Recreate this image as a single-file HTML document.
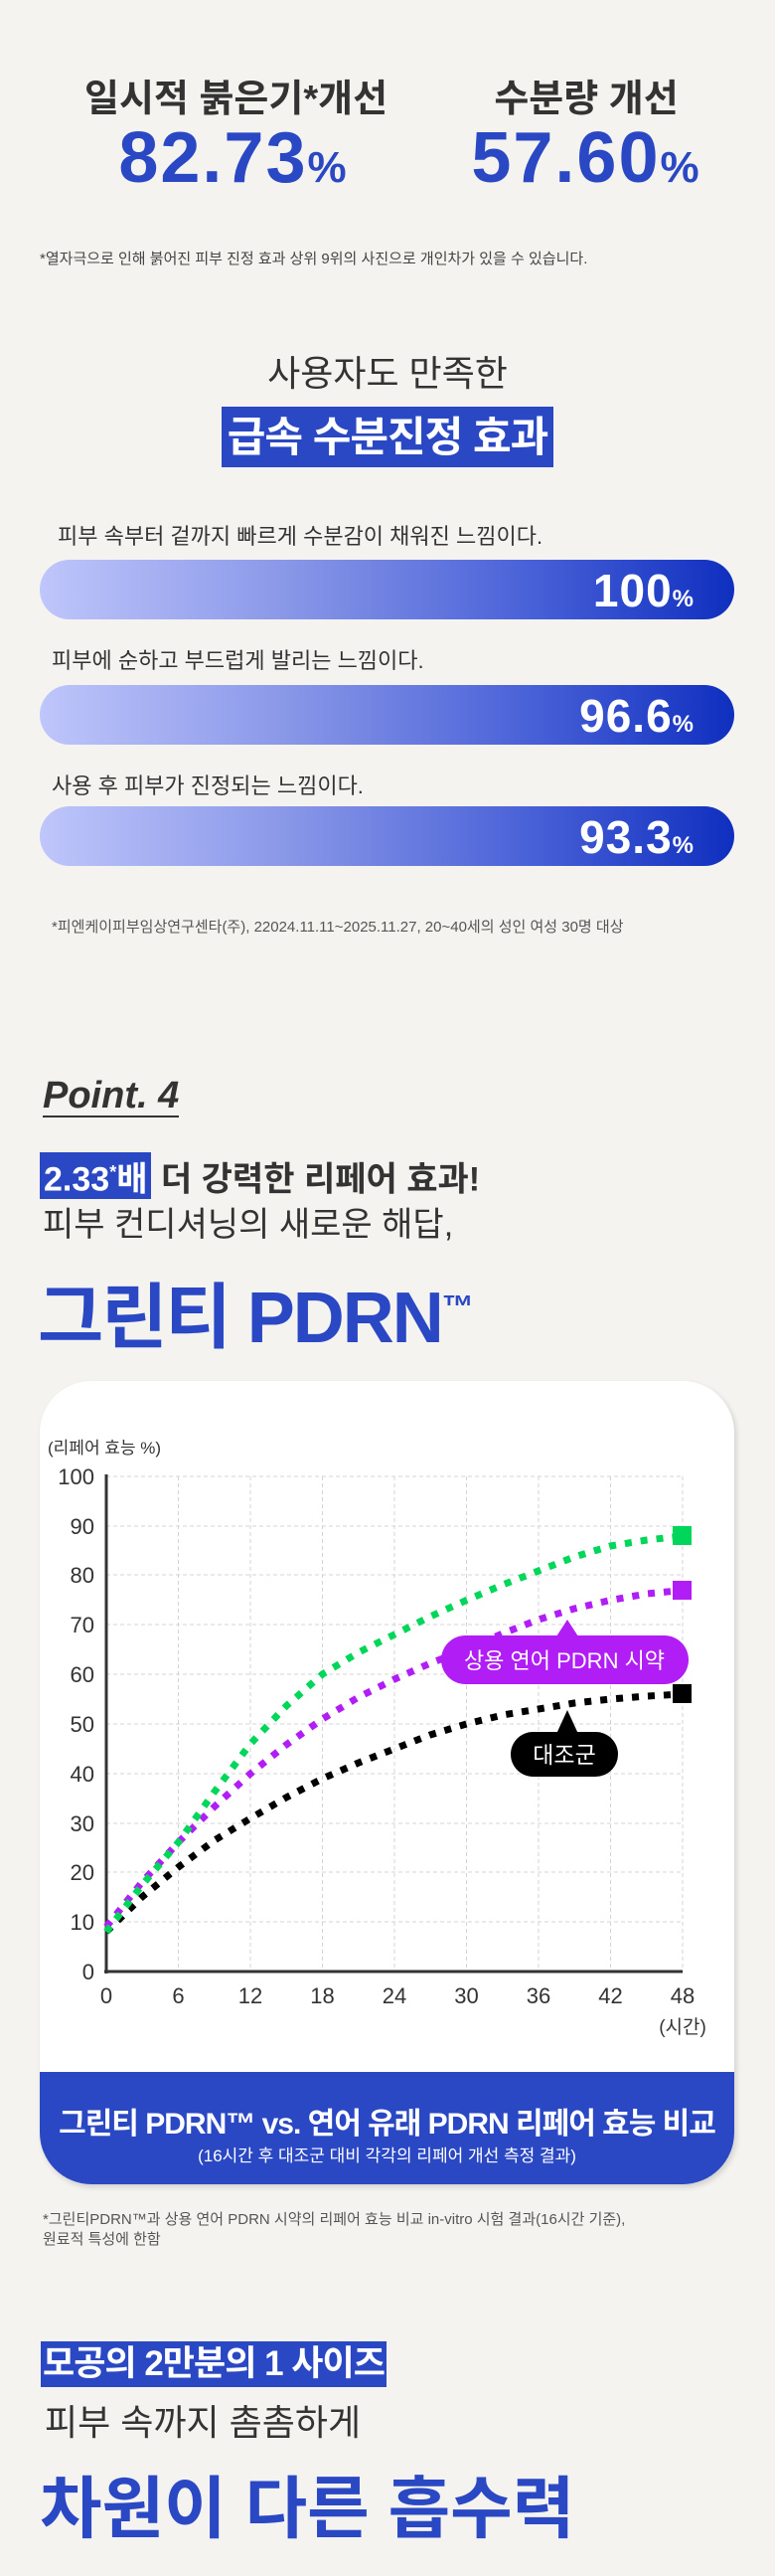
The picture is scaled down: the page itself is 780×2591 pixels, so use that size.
<!DOCTYPE html>
<html><head><meta charset="utf-8"><style>
*{margin:0;padding:0;box-sizing:border-box}
body{width:780px;height:2591px;background:#f4f3f0;position:relative;overflow:hidden;font-family:"Liberation Sans","Noto Sans CJK KR",sans-serif;color:#333}
.a{position:absolute;white-space:nowrap}
.c{text-align:center}
.blue{color:#2b48c4}
.bar{position:absolute;left:40px;width:699px;height:60px;border-radius:30px;background:linear-gradient(90deg,#bfc6fb 0%,#8a98e8 35%,#4a62d8 70%,#0f2fbf 100%)}
.bar span{position:absolute;right:40px;top:4px;color:#fff;font-weight:bold;font-size:46px;letter-spacing:1px}
.bar small{font-size:24px}
.lbl{font-size:22px;color:#333}
.hl{background:#2b48c4;color:#fff}
</style></head><body>
<div class="a c" style="left:85px;width:300px;top:68px;font-size:38px;font-weight:bold;color:#333">일시적 붉은기*개선</div>
<div class="a c" style="left:440px;width:300px;top:68px;font-size:38px;font-weight:bold;color:#333">수분량 개선</div>
<div class="a c blue" style="left:85px;width:300px;top:118px;font-size:72px;font-weight:bold;letter-spacing:2px">82.73<span style="font-size:44px">%</span></div>
<div class="a c blue" style="left:420px;width:340px;top:118px;font-size:72px;font-weight:bold;letter-spacing:2px">57.60<span style="font-size:44px">%</span></div>
<div class="a" style="left:40px;top:249px;font-size:15px;color:#444">*열자극으로 인해 붉어진 피부 진정 효과 상위 9위의 사진으로 개인차가 있을 수 있습니다.</div>
<div class="a c" style="left:0;width:780px;top:356px;font-size:36px;line-height:40px;color:#333">사용자도 만족한</div>
<div class="a c" style="left:0;width:780px;top:409px;line-height:61px;height:61px"><span class="hl" style="display:inline-block;height:61px;line-height:61px;padding:0 6px;font-size:42px;font-weight:bold;letter-spacing:-1px;vertical-align:top">급속 수분진정 효과</span></div>
<div class="a lbl" style="left:58px;top:522px">피부 속부터 겉까지 빠르게 수분감이 채워진 느낌이다.</div>
<div class="bar" style="top:563px"><span>100<small>%</small></span></div>
<div class="a lbl" style="left:52px;top:647px">피부에 순하고 부드럽게 발리는 느낌이다.</div>
<div class="bar" style="top:689px"><span>96.6<small>%</small></span></div>
<div class="a lbl" style="left:52px;top:773px">사용 후 피부가 진정되는 느낌이다.</div>
<div class="bar" style="top:811px"><span>93.3<small>%</small></span></div>
<div class="a" style="left:52px;top:921px;font-size:15px;color:#555">*피엔케이피부임상연구센타(주), 22024.11.11~2025.11.27, 20~40세의 성인 여성 30명 대상</div>

<div class="a" style="left:43px;top:1082px;font-size:38px;font-weight:bold;font-style:italic;color:#333;border-bottom:2px solid #333;line-height:40px">Point. 4</div>
<div class="a" style="left:40px;top:1159px;font-size:34px;font-weight:bold;color:#333;line-height:40px"><span class="hl" style="display:inline-block;padding:0 4px">2.33<sup style="font-size:18px">*</sup>배</span> 더 강력한 리페어 효과!</div>
<div class="a" style="left:43px;top:1204px;font-size:34px;color:#333">피부 컨디셔닝의 새로운 해답,</div>
<div class="a blue" style="left:38px;top:1266px;font-size:72px;font-weight:bold;letter-spacing:-2px">그린티 PDRN<sup style="font-size:32px">™</sup></div>

<div class="a" style="left:40px;top:1389px;width:699px;height:808px;background:#fff;border-radius:52px;box-shadow:2px 3px 6px rgba(0,0,0,0.15);overflow:hidden">
<div style="position:absolute;left:0;top:695px;width:699px;height:113px;background:#2b48c4"></div>
<div class="c" style="position:absolute;left:0;width:699px;top:722px;font-size:30px;font-weight:bold;color:#fff;letter-spacing:-1px">그린티 PDRN™ vs. 연어 유래 PDRN 리페어 효능 비교</div>
<div class="c" style="position:absolute;left:0;width:699px;top:765px;font-size:17px;color:#fff">(16시간 후 대조군 대비 각각의 리페어 개선 측정 결과)</div>
</div>

<svg class="a" style="left:0;top:0" width="780" height="2591" viewBox="0 0 780 2591" font-family="Liberation Sans, Noto Sans CJK KR, sans-serif">
<text x="48" y="1462" font-size="17" fill="#333">(리페어 효능 %)</text>
<g stroke="#d4d4d4" stroke-width="1" stroke-dasharray="4 3">
<line x1="107" y1="1485" x2="687" y2="1485"/><line x1="107" y1="1535" x2="687" y2="1535"/><line x1="107" y1="1584" x2="687" y2="1584"/><line x1="107" y1="1634" x2="687" y2="1634"/><line x1="107" y1="1684" x2="687" y2="1684"/><line x1="107" y1="1734" x2="687" y2="1734"/><line x1="107" y1="1784" x2="687" y2="1784"/><line x1="107" y1="1834" x2="687" y2="1834"/><line x1="107" y1="1883" x2="687" y2="1883"/><line x1="107" y1="1933" x2="687" y2="1933"/>
<line x1="179.5" y1="1485" x2="179.5" y2="1983"/><line x1="252" y1="1485" x2="252" y2="1983"/><line x1="324.5" y1="1485" x2="324.5" y2="1983"/><line x1="397" y1="1485" x2="397" y2="1983"/><line x1="469.5" y1="1485" x2="469.5" y2="1983"/><line x1="542" y1="1485" x2="542" y2="1983"/><line x1="614.5" y1="1485" x2="614.5" y2="1983"/><line x1="687" y1="1485" x2="687" y2="1983"/>
</g>
<line x1="107" y1="1483" x2="107" y2="1985" stroke="#333" stroke-width="3"/>
<line x1="105" y1="1983" x2="687" y2="1983" stroke="#333" stroke-width="3"/>
<g font-size="22" fill="#333" text-anchor="end">
<text x="95" y="1493">100</text><text x="95" y="1543">90</text><text x="95" y="1592">80</text><text x="95" y="1642">70</text><text x="95" y="1692">60</text><text x="95" y="1742">50</text><text x="95" y="1792">40</text><text x="95" y="1842">30</text><text x="95" y="1891">20</text><text x="95" y="1941">10</text><text x="95" y="1991">0</text>
</g>
<g font-size="22" fill="#333" text-anchor="middle">
<text x="107" y="2015">0</text><text x="179.5" y="2015">6</text><text x="252" y="2015">12</text><text x="324.5" y="2015">18</text><text x="397" y="2015">24</text><text x="469.5" y="2015">30</text><text x="542" y="2015">36</text><text x="614.5" y="2015">42</text><text x="687" y="2015">48</text>
<text x="687" y="2045" font-size="19">(시간)</text>
</g>
<g fill="none" stroke-width="7" stroke-dasharray="7 9" stroke-linejoin="round">
<polyline stroke="#000" points="107,1943 143,1908 179.5,1878 216,1851 252,1829 288,1808 324.5,1789 361,1773 397,1759 433,1745 469.5,1734 506,1725 542,1719 578,1713 614.5,1709 651,1706 687,1704"/>
<polyline stroke="#b01ef5" points="107,1938 143,1893 179.5,1853 216,1817 252,1784 288,1755 324.5,1729 361,1707 397,1689 433,1673 469.5,1659 506,1643 542,1629 578,1618 614.5,1609.5 651,1603 687,1599.5"/>
<polyline stroke="#00d65a" points="107,1943 143,1896 179.5,1853 216,1802 252,1754 288,1716 324.5,1684 361,1662 397,1644 433,1626 469.5,1609.5 506,1594 542,1580 578,1566 614.5,1555 651,1549 687,1545"/>
</g>
<rect x="677" y="1535" width="19" height="19" fill="#00d65a"/>
<rect x="677" y="1590" width="19" height="19" fill="#b01ef5"/>
<rect x="677" y="1694" width="19" height="19" fill="#000"/>
<path d="M560,1646 L571,1629 L582,1646 Z" fill="#b01ef5"/>
<rect x="444" y="1645" width="249" height="49" rx="24.5" fill="#b01ef5"/>
<text x="568" y="1678" font-size="22" fill="#fff" text-anchor="middle">상용 연어 PDRN 시약</text>
<path d="M560,1744 L571,1720 L582,1744 Z" fill="#000"/>
<rect x="514" y="1742" width="108" height="45" rx="22.5" fill="#000"/>
<text x="568" y="1773" font-size="23" fill="#fff" text-anchor="middle">대조군</text>
</svg>

<div class="a" style="left:43px;top:2223px;font-size:15px;color:#555;line-height:20px">*그린티PDRN™과 상용 연어 PDRN 시약의 리페어 효능 비교 in-vitro 시험 결과(16시간 기준),<br>원료적 특성에 한함</div>
<div class="a" style="left:41px;top:2355px;font-size:35px;font-weight:bold;letter-spacing:-1px;line-height:46px"><span class="hl" style="display:inline-block;padding:0 2px">모공의 2만분의 1 사이즈</span></div>
<div class="a" style="left:45px;top:2408px;font-size:36px;color:#333">피부 속까지 촘촘하게</div>
<div class="a blue" style="left:40px;top:2468px;font-size:68px;font-weight:bold">차원이 다른 흡수력</div>
</body></html>
